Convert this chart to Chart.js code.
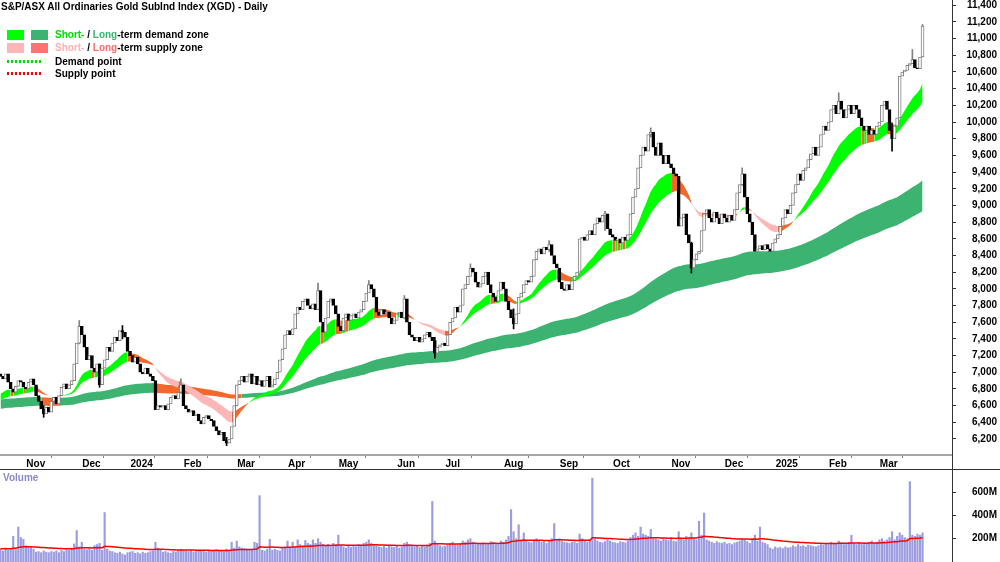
<!DOCTYPE html>
<html>
<head>
<meta charset="utf-8">
<script src="https://cdn.jsdelivr.net/npm/chart.js@4.4.1/dist/chart.umd.min.js"></script>
<style>
  body { margin: 0; width: 1000px; height: 562px; overflow: hidden; background: #fff; position: relative;
         font-family: "Liberation Sans", Arial, sans-serif; font-weight: bold; font-size: 10px; color: #000; }
  canvas { position: absolute; left: 0; }
  #price { top: 0; }
  #vol { top: 470px; }
  .hline { position: absolute; left: 0; top: 469px; width: 1000px; height: 1px; background: #333; }
  .vline { position: absolute; left: 952px; top: 0; width: 1px; height: 562px; background: #333; }
  .txt { position: absolute; white-space: nowrap; line-height: 12px; }
  .box { position: absolute; width: 17px; height: 10px; }
  .dots { position: absolute; width: 35px; height: 3px; }
</style>
</head>
<body>
<canvas id="price" width="1000" height="469"></canvas>
<div class="hline"></div>
<canvas id="vol" width="1000" height="92"></canvas>
<div class="vline"></div>

<div class="txt" style="left:1px;top:1px">S&amp;P/ASX All Ordinaries Gold SubInd Index (XGD) - Daily</div>
<div class="box" style="left:7px;top:30px;background:#00ff00"></div>
<div class="box" style="left:31px;top:30px;background:#3cb371"></div>
<div class="txt" style="left:55px;top:29px"><span style="color:#00e000">Short-</span> / <span style="color:#3cb371">Long</span>-term demand zone</div>
<div class="box" style="left:7px;top:43px;background:#ffb6b6"></div>
<div class="box" style="left:31px;top:43px;background:#ff7070"></div>
<div class="txt" style="left:55px;top:42px"><span style="color:#ffb0b0">Short-</span> / <span style="color:#ff6e6e">Long</span>-term supply zone</div>
<div class="dots" style="left:7px;top:60px;background:repeating-linear-gradient(90deg,#00e000 0 2px,transparent 2px 4px)"></div>
<div class="txt" style="left:55px;top:56px">Demand point</div>
<div class="dots" style="left:7px;top:72px;background:repeating-linear-gradient(90deg,#ff0000 0 2px,transparent 2px 4px)"></div>
<div class="txt" style="left:55px;top:68px">Supply point</div>
<div class="txt" style="left:3px;top:472px;color:#8a8ac8">Volume</div>

<script>
// daily closes, trading days 19 Oct 2023 .. 27 Mar 2025
const close = [
  6950, 6920, 6980, 6880, 6800, 6760, 6830, 6900, 6880, 6820,
  6800, 6880, 6920, 6850, 6720, 6650, 6560, 6500, 6580, 6520,
  6650, 6700, 6620, 6720, 6820, 6860, 6800, 6850, 6900, 7100,
  7350, 7550, 7450, 7300, 7150, 7200, 7050, 7000, 7100, 6850,
  7050, 7150, 7300, 7250, 7350, 7420, 7380, 7500, 7480, 7420,
  7250, 7200, 7120, 7180, 7100, 7000, 6980, 7050, 6980, 6950,
  6900, 6550, 6600, 6580, 6600, 6550, 6620, 6700, 6720, 6680,
  6760, 6850, 6600, 6560, 6520, 6540, 6480, 6500, 6420, 6380,
  6460, 6480, 6440, 6420, 6350, 6300, 6250, 6280, 6180, 6150,
  6200, 6350, 6600, 6850, 6900, 6950, 6880, 6950, 6980, 6860,
  6950, 6850, 6900, 6830, 6900, 6950, 6820, 6850, 6920, 7000,
  7150, 7280, 7450, 7500, 7450, 7520, 7700, 7780, 7750, 7850,
  7880, 7800, 7760, 7820, 7750, 7980, 7600, 7480, 7650, 7850,
  7880, 7800, 7700, 7550, 7500, 7650, 7700, 7620, 7680, 7700,
  7650, 7720, 7750, 7850, 7950, 8050, 8000, 7900, 7720, 7680,
  7750, 7700, 7720, 7650, 7580, 7620, 7700, 7720, 7650, 7880,
  7600, 7450, 7420, 7380, 7420, 7360, 7400, 7450, 7480, 7420,
  7380, 7230, 7300, 7330, 7350, 7320, 7450, 7600, 7650, 7780,
  7720, 7800, 8000, 8050, 8150, 8250, 8200, 8080, 8020, 8060,
  8150, 8200, 8050, 7950, 7900, 7850, 7980, 8080, 8000, 7850,
  7750, 7650, 7580, 7700, 7900, 7950, 8050, 8100, 8080, 8150,
  8350, 8450, 8480, 8420, 8500, 8470, 8530, 8400, 8300, 8250,
  8080, 8000, 7980, 8050, 7990, 8100, 8150, 8200, 8600, 8620,
  8580, 8650, 8700, 8650, 8780, 8850, 8800, 8880, 8900, 8720,
  8650, 8620, 8580, 8600, 8550, 8620, 8580, 8650, 8900, 9100,
  9200, 9450, 9600, 9700, 9650, 9850, 9880, 9700, 9600, 9750,
  9600, 9500, 9600, 9500, 9450, 9380, 9350, 8750, 8850, 8900,
  8650, 8550, 8250, 8350, 8420, 8450, 8700, 8900, 8950, 8850,
  8800, 8920, 8850, 8780, 8900, 8850, 8800, 8880, 8820, 8950,
  9150, 9250, 9380, 9100, 8900, 8800, 8650, 8450, 8480, 8520,
  8470, 8530, 8480, 8450, 8550, 8600, 8650, 8750, 8850, 8950,
  8900, 9000, 9150, 9250, 9380, 9300, 9420, 9450, 9550, 9620,
  9700, 9600, 9700, 9850, 9950, 9900, 10000, 10150, 10200, 10100,
  10250, 10150, 10050, 10150, 10200, 10100, 10200, 10150, 10050, 9950,
  9900, 9950, 9850, 9900, 9850, 9950, 10000, 10200, 10250, 10150,
  9900, 9800, 9950, 10050, 10550, 10600, 10620, 10680, 10700, 10750,
  10650, 10640, 10780, 11150
];
const firstOpen = 6980;

// visible wicks beyond the candle bodies
const wickIdx  = [17, 31, 39, 48, 71, 89, 125, 145, 159, 171, 185, 202, 216, 238, 256, 272, 292, 330, 351, 359, 363];
const wickHigh = [6600, 7620, 7100, 7560, 6920, 6220, 8070, 8100, 7920, 7420, 8300, 7760, 8580, 8930, 9930, 8560, 9450, 10350, 9990, 10870, 11170];
const wickLow  = [6460, 7340, 6820, 7400, 6760, 6120, 7750, 7960, 7640, 7170, 8160, 7520, 8450, 8700, 9820, 8190, 9240, 10170, 9650, 10700, 10780];

// volume, millions
const volume = [
  110, 95, 120, 100, 115, 220, 105, 300, 210, 195,
  140, 125, 130, 110, 85, 90, 80, 95, 85, 80,
  90, 85, 95, 80, 100, 90, 105, 100, 110, 155,
  270, 130, 170, 110, 105, 115, 100, 140, 150, 160,
  100, 425, 110, 95, 90, 80, 75, 85, 70, 60,
  80, 85, 90, 75, 80, 70, 85, 75, 80, 90,
  95, 170, 120, 100, 85, 90, 80, 75, 90, 85,
  95, 110, 100, 95, 90, 100, 85, 90, 95, 100,
  90, 85, 95, 90, 100, 105, 95, 100, 90, 110,
  95, 170, 120, 180, 130, 120, 115, 110, 100, 105,
  170, 160, 570, 100, 95, 110, 195, 100, 110, 100,
  95, 120, 130, 180, 125, 170, 130, 190, 150, 140,
  185, 160, 150, 190, 160, 200, 170, 150, 140, 150,
  130, 160, 150, 230, 140, 130, 120, 135, 125, 140,
  130, 150, 145, 160, 170, 190, 160, 150, 140, 130,
  125, 135, 120, 140, 130, 125, 135, 120, 130, 160,
  170, 150, 140, 130, 135, 125, 140, 130, 145, 160,
  520, 180, 150, 140, 130, 135, 150, 160, 170, 150,
  145, 160, 180, 170, 190, 200, 170, 160, 150, 155,
  165, 150, 160, 175, 170, 160, 150, 180, 170, 190,
  220, 450, 260, 200, 320, 190, 250, 180, 170, 165,
  190, 200, 180, 170, 175, 160, 180, 200, 330, 190,
  200, 180, 170, 165, 160, 170, 175, 160, 240, 200,
  180, 170, 190, 720, 200, 180, 170, 165, 175, 190,
  180, 170, 165, 160, 175, 170, 165, 180, 210, 230,
  250, 220, 300, 240, 230, 220, 280, 210, 200, 190,
  180, 200, 190, 185, 210, 180, 175, 260, 200, 190,
  220, 210, 250, 200, 190, 350, 230, 420, 190, 180,
  170, 160, 175, 165, 160, 170, 155, 160, 150, 165,
  170, 180, 200, 190, 175, 160, 200, 230, 180, 300,
  170, 160, 150, 120, 110, 130, 120, 125, 115, 130,
  120, 125, 140, 130, 150, 135, 140, 130, 145, 140,
  135, 130, 140, 150, 145, 160, 150, 170, 160, 155,
  180, 165, 150, 160, 170, 230, 160, 150, 165, 155,
  150, 160, 170, 180, 160, 170, 190, 200, 180, 190,
  210, 260, 190, 220, 250, 230, 210, 200, 690, 230,
  220, 240, 230, 250
];

// first trading day of each month (bar index) and its label
const monthTicks  = [9, 31, 50, 71, 92, 112, 132, 155, 174, 197, 219, 240, 263, 284, 304, 325, 345];
const monthLabels = ['Nov', 'Dec', '2024', 'Feb', 'Mar', 'Apr', 'May', 'Jun', 'Jul', 'Aug', 'Sep', 'Oct', 'Nov', 'Dec', '2025', 'Feb', 'Mar'];
const priceTicks = [6200, 6400, 6600, 6800, 7000, 7200, 7400, 7600, 7800, 8000, 8200, 8400, 8600, 8800, 9000,
                    9200, 9400, 9600, 9800, 10000, 10200, 10400, 10600, 10800, 11000, 11200, 11400];
const volTicks = [200, 400, 600];

// zone EMAs: periods, their values on the first bar, and bars used to judge the slope
const shortPeriods = [20, 35], shortSeed = [6720, 6650], shortLookback = 1;
const longPeriods = [150, 220], longSeed = [6670, 6560], longLookback = 5;
const volAvgPeriod = 50, volAvgSeed = 115;

const font = { family: '"Liberation Sans", Arial, sans-serif', size: 10, weight: 'bold' };
const xMin = -0.2, xMax = 374.6;

function ema(src, n, seed) {
  const a = 2 / (n + 1);
  let e = seed;
  return src.map(v => (e = e + a * (v - e)));
}
function zoneState(f, s, lb) {
  return f.map((v, i) => {
    const prev = f[Math.max(0, i - lb)];
    if (v >= s[i] && v >= prev) return 'up';
    if (v < s[i] && v <= prev) return 'down';
    return 'mid';
  });
}
const pts = arr => arr.map((y, x) => ({ x, y }));

const sFast = ema(close, shortPeriods[0], shortSeed[0]);
const sSlow = ema(close, shortPeriods[1], shortSeed[1]);
const lFast = ema(close, longPeriods[0], longSeed[0]);
const lSlow = ema(close, longPeriods[1], longSeed[1]);
const sState = zoneState(sFast, sSlow, shortLookback);
const lState = zoneState(lFast, lSlow, longLookback);
const shortCol = { up: '#00ff00', down: '#ffb6b6', mid: '#f4682c' };
const longCol = { up: '#3cb371', down: '#ff7070', mid: '#f4682c' };

const open = close.map((c, i) => i === 0 ? firstOpen : close[i - 1]);
const isUp = close.map((c, i) => c >= open[i]);
const bodies = close.map((c, i) => ({ x: i, y: [open[i], c] }));
const wicks = wickIdx.map((i, k) => ({ x: i, y: [wickLow[k], wickHigh[k]] }));

const labelAt = {};
monthTicks.forEach((t, k) => { labelAt[t] = monthLabels[k]; });

const noPad = s => { s.paddingTop = 0; s.paddingBottom = 0; s.paddingLeft = 0; s.paddingRight = 0; };

new Chart(document.getElementById('price'), {
  type: 'bar',
  data: {
    datasets: [
      { type: 'line', data: pts(lFast), fill: '+1', order: 6, pointRadius: 0, borderColor: 'rgba(0,0,0,0)',
        backgroundColor: longCol.up, segment: { backgroundColor: c => longCol[lState[c.p1DataIndex]] } },
      { type: 'line', data: pts(lSlow), fill: false, order: 6, pointRadius: 0, borderColor: 'rgba(0,0,0,0)' },
      { type: 'line', data: pts(sFast), fill: '+1', order: 5, pointRadius: 0, borderColor: 'rgba(0,0,0,0)',
        backgroundColor: shortCol.up, segment: { backgroundColor: c => shortCol[sState[c.p1DataIndex]] } },
      { type: 'line', data: pts(sSlow), fill: false, order: 5, pointRadius: 0, borderColor: 'rgba(0,0,0,0)' },
      { data: wicks, grouped: false, barThickness: 1, order: 2,
        backgroundColor: wickIdx.map(i => isUp[i] ? '#808080' : '#000') },
      { data: bodies, grouped: false, barThickness: 3, order: 1, borderWidth: 1, borderSkipped: false,
        backgroundColor: isUp.map(u => u ? '#ffffff' : '#000000'),
        borderColor: isUp.map(u => u ? '#808080' : '#000000') }
    ]
  },
  options: {
    responsive: false, animation: false,
    layout: { padding: { left: 0, top: 0, bottom: 0, right: 3 } },
    plugins: { legend: { display: false }, tooltip: { enabled: false } },
    scales: {
      x: {
        type: 'linear', min: xMin, max: xMax, offset: false,
        grid: { drawOnChartArea: false, tickLength: 3, color: '#808080' },
        border: { display: true, color: '#a6a6a6', width: 2 },
        ticks: { autoSkip: false, maxRotation: 0, align: 'start', labelOffset: 3, padding: 0, font, color: '#000',
                 callback: v => labelAt[v] || '' },
        afterBuildTicks: s => { s.ticks = monthTicks.map(v => ({ value: v })); },
        afterFit: s => { s.height = 14; noPad(s); }
      },
      y: {
        position: 'right', min: 6008, max: 11463,
        grid: { drawOnChartArea: false, tickLength: 4, color: '#333' },
        border: { display: false },
        ticks: { crossAlign: 'far', padding: 0, font, color: '#000', callback: v => v.toLocaleString('en-US') },
        afterBuildTicks: s => { s.ticks = priceTicks.map(v => ({ value: v })); },
        afterFit: s => { s.width = 45; noPad(s); }
      }
    }
  }
});

const volAvg = ema(volume, volAvgPeriod, volAvgSeed);

new Chart(document.getElementById('vol'), {
  type: 'bar',
  data: {
    datasets: [
      { type: 'line', data: pts(volAvg), order: 1, pointRadius: 0, borderColor: '#ff0000', borderWidth: 1.5, fill: false },
      { data: pts(volume), order: 2, barThickness: 1.5, backgroundColor: '#9c9ce0' }
    ]
  },
  options: {
    responsive: false, animation: false,
    layout: { padding: { left: 0, top: 0, bottom: 0, right: 3 } },
    plugins: { legend: { display: false }, tooltip: { enabled: false } },
    scales: {
      x: { type: 'linear', min: xMin, max: xMax, offset: false, display: false },
      y: {
        position: 'right', min: 0, max: 790,
        grid: { drawOnChartArea: false, tickLength: 4, color: '#333' },
        border: { display: false },
        ticks: { crossAlign: 'far', padding: 0, font, color: '#000', callback: v => v + 'M' },
        afterBuildTicks: s => { s.ticks = volTicks.map(v => ({ value: v })); },
        afterFit: s => { s.width = 45; noPad(s); }
      }
    }
  }
});
</script>
</body>
</html>
